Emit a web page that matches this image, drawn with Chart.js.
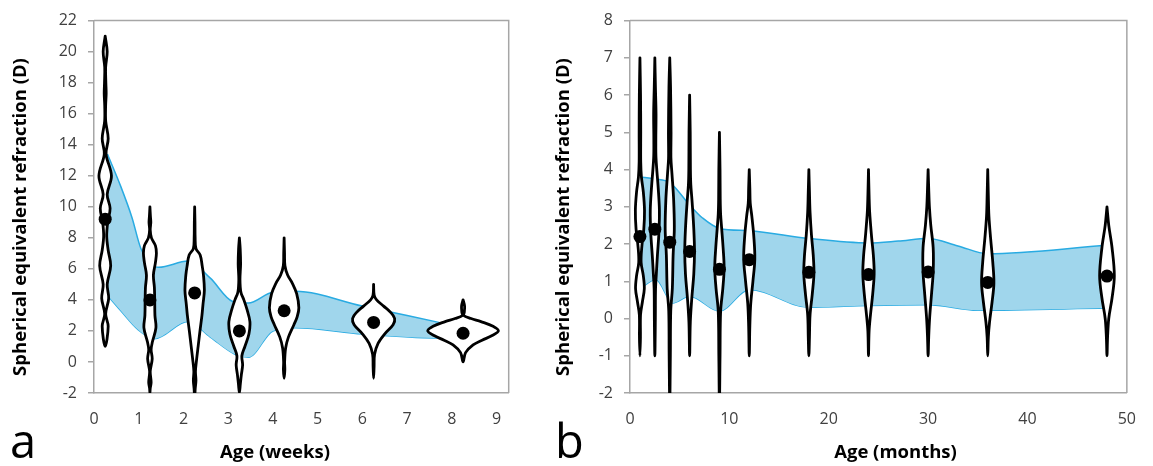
<!DOCTYPE html>
<html>
<head>
<meta charset="utf-8">
<script src="https://cdn.jsdelivr.net/npm/chart.js@4.4.1/dist/chart.umd.min.js"></script>
<style>
  html, body { margin: 0; padding: 0; background: #fff; }
  #wrap { position: relative; width: 1153px; height: 466px; }
  .panel { position: absolute; top: 0; height: 466px; }
  #panelA { left: 0; width: 548px; }
  #panelB { left: 548px; width: 605px; }
</style>
</head>
<body>
<div id="wrap">
  <div class="panel" id="panelA"><canvas id="chartA" width="548" height="466"></canvas></div>
  <div class="panel" id="panelB"><canvas id="chartB" width="605" height="466"></canvas></div>
</div>
<script>
// === panel a : age in weeks ===
const weeksAges = [0.25, 1.25, 2.25, 3.25, 4.25, 6.25, 8.25];
const weeksMeans = [9.2, 4.0, 4.45, 2.0, 3.3, 2.55, 1.85];
const weeksTicksX = [0, 1, 2, 3, 4, 5, 6, 7, 8, 9];
const weeksTicksY = [-2, 0, 2, 4, 6, 8, 10, 12, 14, 16, 18, 20, 22];
// blue band (upper / lower edge) [age, refraction]
const weeksBandUpper = [[0.3, 13.4], [0.6, 11.3], [0.85, 9.3], [1.05, 7.3], [1.45, 6.1], [2.1, 6.5], [2.6, 5.4],
  [3.1, 3.9], [3.45, 3.8], [4.0, 4.5], [4.5, 4.55], [6.0, 3.6], [7.0, 3.0], [8.1, 2.3]];
const weeksBandLower = [[0.3, 4.3], [0.6, 3.3], [0.98, 2.1], [1.35, 1.5], [2.1, 2.6], [2.6, 1.6], [3.15, 0.5],
  [3.45, 0.3], [4.0, 2.0], [4.5, 2.2], [6.0, 1.8], [7.6, 1.55], [8.1, 1.6]];
// violin profiles, top to bottom: [refraction, half width in weeks]
const weeksViolins = [
  [[21, 0], [20, 0.045], [19, 0.01], [18, 0.015], [17.3, 0.022], [16.5, 0.01], [15.5, 0.012], [14.4, 0.067],
   [13.4, 0.02], [12, 0.14], [10.8, 0.045], [9.9, 0.11], [9, 0.056], [8.1, 0.034], [7.2, 0.067], [6.2, 0.123],
   [5, 0.045], [4.1, 0.078], [3.1, 0.011], [2.3, 0.067], [1, 0]],
  [[10, 0], [9.4, 0.011], [9, 0.02], [8.5, 0.007], [8, 0.034], [7.5, 0.123], [7, 0.145], [6.4, 0.123],
   [5.6, 0.078], [4.8, 0.1], [4, 0.107], [3, 0.112], [2.2, 0.134], [1.3, 0.056], [0.8, 0.027], [0.2, 0.051],
   [-0.6, 0.007], [-1.3, 0.027], [-1.7, 0.007], [-2, 0]],
  [[10, 0], [9, 0.007], [8, 0.011], [7.3, 0.029], [6.9, 0.123], [6.2, 0.168], [5.6, 0.197], [4.6, 0.217],
   [3.7, 0.186], [3, 0.163], [2, 0.119], [1, 0.078], [0.2, 0.045], [-0.6, 0.018], [-1.2, 0.029], [-1.7, 0.013],
   [-2.3, 0]],
  [[8, 0], [7.3, 0.018], [6.3, 0.027], [5.3, 0.013], [4.5, 0.034], [4, 0.1], [3.4, 0.168], [2.6, 0.235],
   [1.8, 0.213], [1, 0.123], [0.4, 0.056], [-0.2, 0.072], [-0.8, 0.045], [-1.4, 0.022], [-2, 0]],
  [[8, 0], [7, 0.009], [6.2, 0.018], [5.6, 0.078], [5.1, 0.179], [4.4, 0.28], [3.5, 0.329], [2.9, 0.291],
   [2.4, 0.219], [1.6, 0.096], [0.9, 0.034], [0, 0.011], [-0.5, 0.016], [-1.05, 0]],
  [[5, 0], [4.3, 0.013], [4, 0.067], [3.6, 0.224], [3.2, 0.38], [2.8, 0.47], [2.4, 0.436], [1.8, 0.246],
   [1.2, 0.1], [0.5, 0.022], [-0.3, 0.011], [-1.05, 0]],
  [[4, 0], [3.6, 0.034], [3.2, 0.027], [3, 0.013], [2.8, 0.179], [2.6, 0.4], [2.3, 0.67], [2, 0.79],
   [1.7, 0.65], [1.4, 0.425], [1.1, 0.224], [0.6, 0.056], [0, 0]]
];

// === panel b : age in months ===
const monthsAges = [1, 2.5, 4, 6, 9, 12, 18, 24, 30, 36, 48];
const monthsMeans = [2.2, 2.4, 2.05, 1.8, 1.32, 1.58, 1.24, 1.18, 1.25, 0.97, 1.14];
const monthsTicksX = [0, 10, 20, 30, 40, 50];
const monthsTicksY = [-2, -1, 0, 1, 2, 3, 4, 5, 6, 7, 8];
const monthsBandUpper = [[1, 3.8], [2.5, 3.75], [4, 3.65], [6, 3.05], [7.3, 2.7], [9, 2.42], [12, 2.36],
  [18, 2.15], [24, 2.03], [27, 2.08], [30, 2.15], [33, 1.95], [36, 1.74], [48, 1.97]];
const monthsBandLower = [[1, 0.8], [2.6, 1.05], [4.3, 0.42], [6, 0.6], [9, 0.2], [12, 0.78], [18, 0.3],
  [24, 0.35], [30, 0.37], [35, 0.22], [48, 0.28]];
const monthsViolins = [
  [[7, 0], [6, 0.06], [5, 0.08], [4.2, 0.08], [3.8, 0.15], [3.4, 0.34], [2.9, 0.46], [2.4, 0.39], [1.9, 0.18],
   [1.5, 0.12], [1.15, 0.34], [0.8, 0.44], [0.45, 0.25], [0.1, 0.06], [-0.5, 0.05], [-1, 0]],
  [[7, 0], [6.2, 0.06], [5.5, 0.12], [4.8, 0.1], [4.3, 0.12], [3.5, 0.34], [2.9, 0.46], [2.3, 0.41],
   [1.7, 0.26], [1.2, 0.15], [0.8, 0.07], [0, 0.05], [-1, 0]],
  [[7, 0], [6.2, 0.08], [5, 0.13], [4.3, 0.12], [3.9, 0.22], [3.2, 0.39], [2.4, 0.46], [1.7, 0.34],
   [0.8, 0.26], [0.2, 0.1], [-1, 0.06], [-2.3, 0]],
  [[6, 0], [5, 0.06], [4, 0.08], [3.6, 0.12], [3.1, 0.26], [2.4, 0.42], [1.8, 0.49], [1.2, 0.42],
   [0.55, 0.22], [-0.1, 0.07], [-1, 0]],
  [[5, 0], [4, 0.06], [3.2, 0.08], [2.8, 0.12], [2.4, 0.23], [1.9, 0.37], [1.35, 0.47], [0.8, 0.34],
   [0.2, 0.12], [-1, 0.06], [-2.3, 0]],
  [[4, 0], [3.5, 0.06], [3.1, 0.1], [2.75, 0.26], [2.2, 0.46], [1.6, 0.56], [1, 0.37], [0.4, 0.15],
   [-0.2, 0.06], [-1, 0]],
  [[4, 0], [3.4, 0.06], [2.85, 0.12], [2.25, 0.26], [1.7, 0.44], [1.2, 0.51], [0.65, 0.34], [0.1, 0.12],
   [-0.5, 0.06], [-1, 0]],
  [[4, 0], [3.3, 0.06], [2.85, 0.12], [2.2, 0.31], [1.7, 0.49], [1.2, 0.57], [0.65, 0.42], [0.1, 0.2],
   [-0.35, 0.06], [-1, 0]],
  [[4, 0], [3.5, 0.06], [3, 0.13], [2.5, 0.27], [1.9, 0.51], [1.25, 0.51], [0.65, 0.34], [0, 0.15],
   [-0.5, 0.06], [-1, 0]],
  [[4, 0], [3.3, 0.06], [2.75, 0.12], [2.15, 0.29], [1.5, 0.51], [0.95, 0.62], [0.45, 0.44], [-0.1, 0.18],
   [-0.5, 0.06], [-1, 0]],
  [[3, 0], [2.5, 0.18], [1.9, 0.51], [1.15, 0.74], [0.55, 0.51], [0, 0.18], [-0.5, 0.06], [-1, 0]]
];

// === 共通スタイル ===
const AXIS_GRAY = '#a6a6a6';
const TICK_COLOR = '#404040';
const BAND_LINE = '#29abe2';
const BAND_FILL = 'rgba(160, 214, 236, 1)';
const FONT = '"Open Sans", "DejaVu Sans", sans-serif';

// violin outline: right side going down, left side coming back up
const violinOutline = (cx, profile) => {
    const right = profile.map(([y, w]) => ({ x: cx + w, y }));
    const left = profile.slice(0, -1).reverse().map(([y, w]) => ({ x: cx - w, y }));
    return right.concat(left);
};

const toPoints = (pairs) => pairs.map(([x, y]) => ({ x, y }));

// top/right frame of the plot area
const plotBox = {
    id: 'plotBox',
    beforeDatasetsDraw(chart) {
        const { ctx, chartArea: a } = chart;
        ctx.save();
        ctx.strokeStyle = AXIS_GRAY;
        ctx.lineWidth = 1.5;
        ctx.beginPath();
        ctx.moveTo(a.left, a.top);
        ctx.lineTo(a.right, a.top);
        ctx.lineTo(a.right, a.bottom);
        ctx.stroke();
        ctx.restore();
    }
};

// axis titles and the panel letter
const panelText = {
    id: 'panelText',
    afterDraw(chart, args, opts) {
        const { ctx } = chart;
        ctx.save();
        ctx.fillStyle = '#000';
        ctx.font = `bold 18.5px ${FONT}`;
        ctx.textAlign = 'center';
        ctx.textBaseline = 'middle';
        ctx.fillText(opts.xTitle, opts.xTitlePos[0], opts.xTitlePos[1]);
        ctx.save();
        ctx.translate(opts.yTitlePos[0], opts.yTitlePos[1]);
        ctx.rotate(-Math.PI / 2);
        ctx.fillText(opts.yTitle, 0, 0);
        ctx.restore();
        ctx.font = `47px ${FONT}`;
        ctx.textAlign = 'left';
        ctx.textBaseline = 'alphabetic';
        ctx.fillText(opts.letter, opts.letterPos[0], opts.letterPos[1]);
        ctx.restore();
    }
};

const makePanel = (canvasId, p) => {
    const datasets = [];
    // 平均値の点 (一番上に描く)
    datasets.push({
        data: p.ages.map((x, i) => ({ x, y: p.means[i] })),
        showLine: false,
        pointRadius: 6.5,
        pointBackgroundColor: '#000',
        pointBorderWidth: 0
    });
    p.violins.forEach((profile, i) => {
        datasets.push({
            data: violinOutline(p.ages[i], profile),
            borderColor: '#000',
            borderWidth: 2.8,
            backgroundColor: '#fff',
            fill: 'shape',
            tension: 0.35,
            pointRadius: 0,
            borderJoinStyle: 'round',
            borderCapStyle: 'round'
        });
    });
    datasets.push({
        data: toPoints(p.bandUpper),
        borderColor: BAND_LINE,
        borderWidth: 1.5,
        backgroundColor: BAND_FILL,
        fill: '+1',
        cubicInterpolationMode: 'monotone',
        pointRadius: 0
    });
    datasets.push({
        data: toPoints(p.bandLower),
        borderColor: BAND_LINE,
        borderWidth: 1.5,
        fill: false,
        cubicInterpolationMode: 'monotone',
        pointRadius: 0
    });

    return new Chart(document.getElementById(canvasId), {
        type: 'line',
        data: { datasets },
        plugins: [plotBox, panelText],
        options: {
            responsive: false,
            animation: false,
            events: [],
            layout: { padding: { top: 14.7, right: p.padRight, bottom: 0, left: 0 } },
            plugins: {
                legend: { display: false },
                tooltip: { enabled: false },
                panelText: p.text
            },
            scales: {
                x: {
                    type: 'linear',
                    min: 0,
                    max: p.xMax,
                    afterBuildTicks: (s) => { s.ticks = p.ticksX.map(v => ({ value: v })); },
                    afterFit: (s) => { s.height = 73; },
                    grid: { display: false, drawTicks: false },
                    border: { display: true, color: AXIS_GRAY, width: 1.5 },
                    ticks: { color: TICK_COLOR, padding: 17, font: { family: FONT, size: 16 }, maxRotation: 0 }
                },
                y: {
                    type: 'linear',
                    min: p.ticksY[0],
                    max: p.ticksY[p.ticksY.length - 1],
                    afterBuildTicks: (s) => { s.ticks = p.ticksY.map(v => ({ value: v })); },
                    afterFit: (s) => { s.width = p.axisLeft; },
                    grid: { display: true, drawOnChartArea: false, drawTicks: true, tickLength: 6, color: AXIS_GRAY, lineWidth: 1.5 },
                    border: { display: true, color: AXIS_GRAY, width: 1.5 },
                    ticks: { color: TICK_COLOR, padding: 11, font: { family: FONT, size: 16 } }
                }
            }
        }
    });
};

makePanel('chartA', {
    ages: weeksAges, means: weeksMeans, violins: weeksViolins,
    bandUpper: weeksBandUpper, bandLower: weeksBandLower,
    ticksX: weeksTicksX, ticksY: weeksTicksY, xMax: 9.27,
    axisLeft: 94, padRight: 39.3,
    text: {
        xTitle: 'Age (weeks)', xTitlePos: [275, 453],
        yTitle: 'Spherical equivalent refraction (D)', yTitlePos: [21, 217],
        letter: 'a', letterPos: [10, 458]
    }
});

makePanel('chartB', {
    ages: monthsAges, means: monthsMeans, violins: monthsViolins,
    bandUpper: monthsBandUpper, bandLower: monthsBandLower,
    ticksX: monthsTicksX, ticksY: monthsTicksY, xMax: 50,
    axisLeft: 82, padRight: 15,
    text: {
        xTitle: 'Age (months)', xTitlePos: [347.5, 453],
        yTitle: 'Spherical equivalent refraction (D)', yTitlePos: [16, 217],
        letter: 'b', letterPos: [7, 458]
    }
});
</script>
</body>
</html>
